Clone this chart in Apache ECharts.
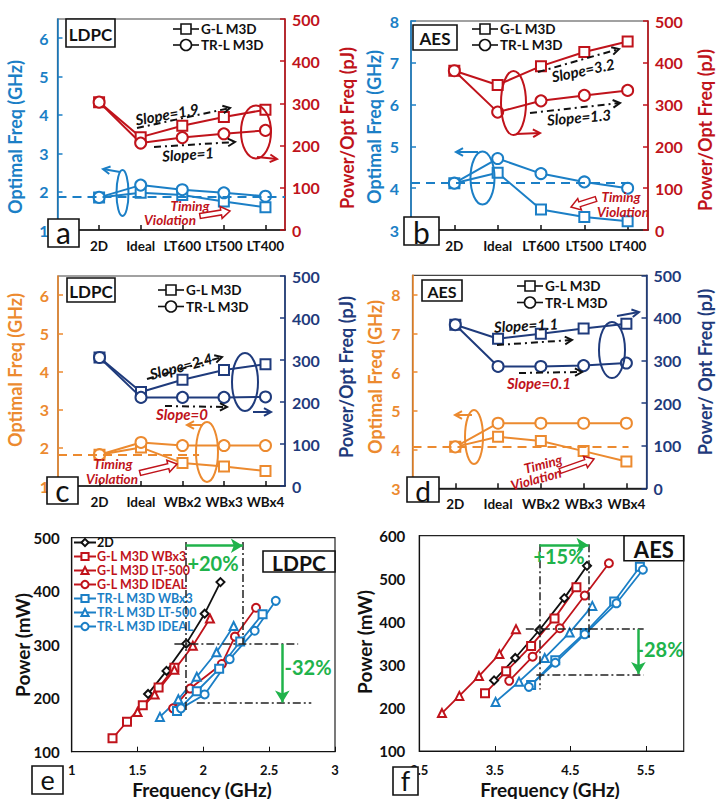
<!DOCTYPE html>
<html>
<head>
<meta charset="utf-8">
<script src="https://cdn.jsdelivr.net/npm/echarts@6/dist/echarts.min.js"></script>
<style>
  html, body { margin: 0; padding: 0; background: #fff; }
  #chart { width: 725px; height: 799px; }
</style>
</head>
<body>
<div id="chart"></div>
<script>
// ---------- data ----------
const catsLT = ['2D', 'Ideal', 'LT600', 'LT500', 'LT400'];
const catsWB = ['2D', 'Ideal', 'WBx2', 'WBx3', 'WBx4'];

// (a) LDPC, liner thickness: optimal frequency (GHz) and power/freq (pJ)
const aFreqGL = [1.85, 1.97, 1.91, 1.74, 1.59];
const aFreqTR = [1.85, 2.17, 2.05, 1.97, 1.88];
const aEnergyGL = [303, 220, 247, 268, 285];
const aEnergyTR = [303, 206, 219, 228, 236];
const aFreq2D = 1.86;

// (b) AES, liner thickness
const bFreqGL = [4.12, 4.37, 3.49, 3.31, 3.21];
const bFreqTR = [4.12, 4.71, 4.35, 4.15, 4.0];
const bEnergyGL = [381, 347, 392, 426, 451];
const bEnergyTR = [381, 282, 309, 322, 334];
const bFreq2D = 4.12;

// (c) LDPC, wire bonding width
const cFreqGL = [1.82, 2.01, 1.6, 1.51, 1.39];
const cFreqTR = [1.82, 2.14, 2.06, 2.06, 2.06];
const cEnergyGL = [306, 224, 253, 276, 290];
const cEnergyTR = [306, 211, 211, 211, 212];
const cFreq2D = 1.82;

// (d) AES, wire bonding width
const dFreqGL = [4.07, 4.33, 4.22, 3.96, 3.69];
const dFreqTR = [4.07, 4.68, 4.68, 4.68, 4.68];
const dEnergyGL = [384, 351, 363, 375, 386];
const dEnergyTR = [384, 286, 286, 288, 294];
const dFreq2D = 4.07;

// (e) LDPC power vs. frequency
const eNames = ['2D', 'G-L M3D WBx3', 'G-L M3D LT-500', 'G-L M3D IDEAL', 'TR-L M3D WBx3', 'TR-L M3D LT-500', 'TR-L M3D IDEAL'];
const e2DFreq = [1.58, 1.72, 1.87, 2.01, 2.13];
const e2DPower = [208, 251, 302, 358, 417];
const eGLWBFreq = [1.31, 1.42, 1.54, 1.66, 1.78];
const eGLWBPower = [125, 156, 187, 220, 257];
const eGLLTFreq = [1.50, 1.63, 1.78, 1.92, 2.05];
const eGLLTPower = [174, 207, 253, 298, 349];
const eGLIdFreq = [1.77, 1.90, 2.14, 2.24, 2.40];
const eGLIdPower = [181, 218, 264, 315, 369];
const eTRWBFreq = [1.80, 1.95, 2.12, 2.28, 2.45];
const eTRWBPower = [176, 213, 255, 306, 357];
const eTRLTFreq = [1.67, 1.81, 1.95, 2.10, 2.23];
const eTRLTPower = [165, 198, 240, 286, 335];
const eTRIdFreq = [1.83, 2.01, 2.20, 2.39, 2.55];
const eTRIdPower = [181, 207, 273, 326, 382];
const eFreq2D = 1.865, eFreqM3D = 2.30, eIsoPower = 301, eM3DPower = 192;

// (f) AES power vs. frequency
const f2DFreq = [3.49, 3.77, 4.09, 4.42, 4.72];
const f2DPower = [264, 316, 381, 455, 530];
const fGLWBFreq = [3.37, 3.65, 3.98, 4.29, 4.58];
const fGLWBPower = [234, 285, 344, 408, 480];
const fGLLTFreq = [2.80, 3.03, 3.29, 3.56, 3.78];
const fGLLTPower = [188, 228, 274, 325, 383];
const fGLIdFreq = [3.69, 4.00, 4.36, 4.69, 5.01];
const fGLIdPower = [263, 319, 385, 461, 536];
const fTRWBFreq = [3.98, 4.30, 4.69, 5.08, 5.42];
const fTRWBPower = [253, 311, 374, 447, 528];
const fTRLTFreq = [3.51, 3.82, 4.16, 4.49, 4.79];
const fTRLTPower = [214, 261, 316, 375, 437];
const fTRIdFreq = [3.95, 4.30, 4.69, 5.11, 5.46];
const fTRIdPower = [249, 305, 371, 443, 521];
const fFreq2D = 4.09, fFreqM3D = 4.74, fIsoPower = 383, fM3DPower = 277;

// ---------- styling ----------
const FONT = 'Lato, "Open Sans", sans-serif';
const BLUE = '#1b7fc6', RED = '#c0131b', ORANGE = '#ec8a2f', NAVY = '#1f3b7c', GREEN = '#20b34b', BLACK = '#111';

const chart = echarts.init(document.getElementById('chart'), null, { renderer: 'svg', width: 725, height: 799 });

const grids = [
  { left: 57.5, top: 19, width: 227.5, height: 211 },   // a
  { left: 411, top: 21, width: 237, height: 209 },      // b
  { left: 58, top: 276, width: 227, height: 210 },      // c
  { left: 412.5, top: 275.3, width: 234, height: 213 }, // d
  { left: 71.7, top: 537.7, width: 263.3, height: 214 },// e
  { left: 419.3, top: 535.7, width: 264.4, height: 215.3 } // f
].map((g, i) => Object.assign({ show: true, borderColor: i < 4 ? '#444' : '#222', borderWidth: 1.2, backgroundColor: 'transparent' }, g));

function catAxis(gi, cats) {
  return {
    gridIndex: gi, type: 'value', min: 0, max: 5.47, interval: 1,
    axisLine: { show: true, lineStyle: { color: BLACK, width: 1.5 } },
    axisTick: { show: true, inside: true, length: 5, lineStyle: { color: BLACK, width: 1.5 } },
    axisLabel: {
      margin: 9, color: BLACK, fontFamily: FONT, fontWeight: 'bold', fontSize: 13.5, showMaxLabel: false,
      formatter: v => (Number.isInteger(v) && v >= 1 && v <= cats.length) ? cats[v - 1] : ''
    },
    splitLine: { show: false }
  };
}
function valAxisY(gi, min, max, interval, color, position, showMax, margin) {
  return {
    gridIndex: gi, type: 'value', min, max, interval, position,
    axisLine: { show: true, onZero: false, lineStyle: { color, width: 1.6 } },
    axisTick: { show: true, inside: true, length: 5, lineStyle: { color, width: 1.5 } },
    axisLabel: { margin: margin, color, fontFamily: FONT, fontWeight: 'bold', fontSize: 16, showMaxLabel: showMax },
    splitLine: { show: false }
  };
}

const xAxes = [
  catAxis(0, catsLT), catAxis(1, catsLT), catAxis(2, catsWB), catAxis(3, catsWB),
  {
    gridIndex: 4, type: 'value', min: 1, max: 3, interval: 0.5,
    axisLine: { show: true, lineStyle: { color: BLACK, width: 1.2 } },
    axisTick: { show: true, inside: true, length: 5, lineStyle: { color: BLACK } },
    axisLabel: { margin: 12, color: BLACK, fontFamily: FONT, fontWeight: 'bold', fontSize: 13 },
    splitLine: { show: false }
  },
  {
    gridIndex: 5, type: 'value', min: 2.5, max: 6, interval: 1,
    axisLine: { show: true, lineStyle: { color: BLACK, width: 1.2 } },
    axisTick: { show: true, inside: true, length: 5, lineStyle: { color: BLACK } },
    axisLabel: { margin: 12, color: BLACK, fontFamily: FONT, fontWeight: 'bold', fontSize: 13, showMaxLabel: false },
    splitLine: { show: false }
  }
];

const yAxes = [
  valAxisY(0, 1, 6.5, 1, BLUE, 'left', false, 9), valAxisY(0, 0, 500, 100, RED, 'right', true, 7),
  valAxisY(1, 3, 8, 1, BLUE, 'left', true, 12), valAxisY(1, 0, 500, 100, RED, 'right', true, 7),
  valAxisY(2, 1, 6.5, 1, ORANGE, 'left', false, 9), valAxisY(2, 0, 500, 100, NAVY, 'right', true, 7),
  valAxisY(3, 3, 8.5, 1, ORANGE, 'left', false, 12), valAxisY(3, 0, 500, 100, NAVY, 'right', true, 7),
  {
    gridIndex: 4, type: 'value', min: 100, max: 500, interval: 100,
    axisLine: { show: true, lineStyle: { color: BLACK, width: 1.2 } },
    axisTick: { show: false },
    axisLabel: { margin: 12, color: BLACK, fontFamily: FONT, fontWeight: 'bold', fontSize: 15 },
    splitLine: { show: false }
  },
  {
    gridIndex: 5, type: 'value', min: 100, max: 600, interval: 100,
    axisLine: { show: true, lineStyle: { color: BLACK, width: 1.2 } },
    axisTick: { show: false },
    axisLabel: { margin: 14, color: BLACK, fontFamily: FONT, fontWeight: 'bold', fontSize: 15 },
    splitLine: { show: false }
  }
];

const toCat = arr => arr.map((v, i) => [i + 1, v]);
const zip = (xs, ys) => xs.map((x, i) => [x, ys[i]]);

function lineSeries(name, xi, yi, data, symbol, color, size, width) {
  return {
    name, type: 'line', xAxisIndex: xi, yAxisIndex: yi, data,
    symbol, symbolSize: size, showSymbol: true, animation: false, silent: true, z: 3,
    lineStyle: { color, width },
    itemStyle: { color, borderColor: color, borderWidth: width }
  };
}

function dashMark(y, xEnd, color) {
  return {
    silent: true, symbol: 'none', label: { show: false },
    lineStyle: { color, width: 2, type: [9, 6] },
    data: [[{ coord: [0, y] }, { coord: [xEnd, y] }]]
  };
}

const series = [];
function panel(gi, freqGL, freqTR, enGL, enTR, cFreq, cEn, dashY, dashEnd) {
  const sq = lineSeries('GL freq ' + gi, gi, 2 * gi, toCat(freqGL), 'emptyRect', cFreq, 10, 2);
  sq.markLine = dashMark(dashY, dashEnd, cFreq);
  series.push(
    sq,
    lineSeries('TR freq ' + gi, gi, 2 * gi, toCat(freqTR), 'emptyCircle', cFreq, 11, 2),
    lineSeries('GL energy ' + gi, gi, 2 * gi + 1, toCat(enGL), 'emptyRect', cEn, 10, 2),
    lineSeries('TR energy ' + gi, gi, 2 * gi + 1, toCat(enTR), 'emptyCircle', cEn, 11, 2)
  );
}
panel(0, aFreqGL, aFreqTR, aEnergyGL, aEnergyTR, BLUE, RED, aFreq2D, 5.47);
panel(1, bFreqGL, bFreqTR, bEnergyGL, bEnergyTR, BLUE, RED, bFreq2D, 5.1);
panel(2, cFreqGL, cFreqTR, cEnergyGL, cEnergyTR, ORANGE, NAVY, cFreq2D, 3.4);
panel(3, dFreqGL, dFreqTR, dEnergyGL, dEnergyTR, ORANGE, NAVY, dFreq2D, 5.05);

// guide lines for the power/frequency panels
const DASHDOT = [8, 3, 2, 3];
function guide(p1, p2, color, width, dash, arrow) {
  const ls = { color, width, type: dash || 'solid' };
  return [
    { coord: p1, symbol: 'none', lineStyle: ls },
    { coord: p2, symbol: arrow ? 'arrow' : 'none', symbolSize: [11, 12], lineStyle: ls }
  ];
}

const eSets = [
  [e2DFreq, e2DPower, 'emptyDiamond', BLACK],
  [eGLWBFreq, eGLWBPower, 'emptyRect', RED],
  [eGLLTFreq, eGLLTPower, 'emptyTriangle', RED],
  [eGLIdFreq, eGLIdPower, 'emptyCircle', RED],
  [eTRWBFreq, eTRWBPower, 'emptyRect', BLUE],
  [eTRLTFreq, eTRLTPower, 'emptyTriangle', BLUE],
  [eTRIdFreq, eTRIdPower, 'emptyCircle', BLUE]
];
eSets.forEach((s, i) => {
  series.push(lineSeries(eNames[i], 4, 8, zip(s[0], s[1]), s[2], s[3], 8, 1.8));
});
series[16].markLine = {
  silent: true, label: { show: false }, symbol: 'none',
  data: [
    guide([eFreq2D, 492], [eFreq2D, 176], '#222', 1.5, DASHDOT),
    guide([eFreqM3D, 492], [eFreqM3D, eIsoPower], '#222', 1.5, DASHDOT),
    guide([1.78, eIsoPower], [2.72, eIsoPower], '#222', 1.5, DASHDOT),
    guide([1.95, eM3DPower], [2.82, eM3DPower], '#222', 1.5, DASHDOT),
    guide([eFreq2D, 485], [eFreqM3D, 485], GREEN, 2.5, null, true),
    guide([2.6, eIsoPower], [2.6, eM3DPower], GREEN, 2.5, null, true)
  ]
};

const fSets = [
  [f2DFreq, f2DPower, 'emptyDiamond', BLACK],
  [fGLWBFreq, fGLWBPower, 'emptyRect', RED],
  [fGLLTFreq, fGLLTPower, 'emptyTriangle', RED],
  [fGLIdFreq, fGLIdPower, 'emptyCircle', RED],
  [fTRWBFreq, fTRWBPower, 'emptyRect', BLUE],
  [fTRLTFreq, fTRLTPower, 'emptyTriangle', BLUE],
  [fTRIdFreq, fTRIdPower, 'emptyCircle', BLUE]
];
fSets.forEach((s, i) => {
  series.push(lineSeries('AES ' + eNames[i], 5, 9, zip(s[0], s[1]), s[2], s[3], 8, 1.8));
});
series[23].markLine = {
  silent: true, label: { show: false }, symbol: 'none',
  data: [
    guide([fFreq2D, 580], [fFreq2D, 243], '#222', 1.5, DASHDOT),
    guide([fFreqM3D, 580], [fFreqM3D, 360], '#222', 1.5, DASHDOT),
    guide([3.91, fIsoPower], [5.47, fIsoPower], '#222', 1.5, DASHDOT),
    guide([4.05, fM3DPower], [5.47, fM3DPower], '#222', 1.5, DASHDOT),
    guide([fFreq2D, 578], [fFreqM3D, 578], GREEN, 2.5, null, true),
    guide([5.40, fIsoPower], [5.40, fM3DPower + 2], GREEN, 2.5, null, true)
  ]
};

// ---------- annotations ----------
const G = [];
function txt(x, y, s, o) {
  o = o || {};
  G.push({
    type: 'text', x, y, rotation: (o.rot || 0) * Math.PI / 180, z: 30, silent: true,
    style: {
      text: s, fill: o.color || BLACK,
      font: (o.italic ? 'italic ' : '') + (o.weight || 'bold') + ' ' + (o.size || 15) + 'px ' + FONT,
      align: o.align || 'center', verticalAlign: 'middle'
    }
  });
}
function seg(x1, y1, x2, y2, color, w, dash) {
  G.push({ type: 'line', z: 25, silent: true, shape: { x1, y1, x2, y2 },
    style: { stroke: color, lineWidth: w, lineDash: dash || null, fill: 'none' } });
}
function head(x1, y1, x2, y2, color, w, size) {
  const a = Math.atan2(y2 - y1, x2 - x1), s = size || 8;
  G.push({ type: 'polyline', z: 25, silent: true,
    shape: { points: [[x2 - s * Math.cos(a - 0.5), y2 - s * Math.sin(a - 0.5)], [x2, y2],
                      [x2 - s * Math.cos(a + 0.5), y2 - s * Math.sin(a + 0.5)]] },
    style: { stroke: color, lineWidth: w, fill: 'none' } });
}
function arrow(x1, y1, x2, y2, color, w, dash, size) {
  seg(x1, y1, x2, y2, color, w, dash);
  head(x1, y1, x2, y2, color, w, size);
}
function oval(cx, cy, rx, ry, color) {
  G.push({ type: 'ellipse', z: 25, silent: true, shape: { cx, cy, rx, ry },
    style: { stroke: color, lineWidth: 2, fill: 'none' } });
}
function hollowArrow(x1, y1, x2, y2, color) {
  const a = Math.atan2(y2 - y1, x2 - x1), L = Math.hypot(x2 - x1, y2 - y1);
  const loc = [[0, -2.5], [L - 9, -2.5], [L - 9, -6], [L, 0], [L - 9, 6], [L - 9, 2.5], [0, 2.5]];
  const pts = loc.map(p => [x1 + p[0] * Math.cos(a) - p[1] * Math.sin(a), y1 + p[0] * Math.sin(a) + p[1] * Math.cos(a)]);
  G.push({ type: 'polygon', z: 26, silent: true, shape: { points: pts },
    style: { stroke: color, lineWidth: 1.5, fill: '#fff' } });
}
function box(x, y, w, h, label, size, weight, dy) {
  G.push({ type: 'rect', z: 28, silent: true, shape: { x, y, width: w, height: h },
    style: { fill: '#fff', stroke: BLACK, lineWidth: 1.6 } });
  txt(x + w / 2, y + h / 2 + (dy || 1), label, { size, weight: weight || 'bold' });
}
function miniLegend(x, y, marker, label) {
  seg(x, y, x + 26, y, BLACK, 1.6);
  if (marker === 'rect') {
    G.push({ type: 'rect', z: 26, silent: true, shape: { x: x + 13 - 5, y: y - 5, width: 10, height: 10 },
      style: { fill: '#fff', stroke: BLACK, lineWidth: 1.6 } });
  } else {
    G.push({ type: 'circle', z: 26, silent: true, shape: { cx: x + 13, cy: y, r: 5.5 },
      style: { fill: '#fff', stroke: BLACK, lineWidth: 1.6 } });
  }
  txt(x + 28, y, label, { align: 'left', size: 13.5 });
}
const slopeDash = [7, 4, 2, 4];
const TV = { italic: true, color: RED, size: 13.5 };

// axis titles
txt(15, 137, 'Optimal Freq (GHz)', { rot: 90, color: BLUE, size: 18 });
txt(347, 128, 'Power/Opt Freq (pJ)', { rot: 90, color: RED, size: 18 });
txt(374, 127, 'Optimal Freq (GHz)', { rot: 90, color: BLUE, size: 18 });
txt(705, 130, 'Power/Opt Freq (pJ)', { rot: 90, color: RED, size: 18 });
txt(15, 370, 'Optimal Freq (GHz)', { rot: 90, color: ORANGE, size: 18 });
txt(346, 377, 'Power/Opt Freq (pJ)', { rot: 90, color: NAVY, size: 18 });
txt(375, 377, 'Optimal Freq (GHz)', { rot: 90, color: ORANGE, size: 18 });
txt(705, 372, 'Power/ Opt Freq (pJ)', { rot: 90, color: NAVY, size: 18 });
txt(22, 645, 'Power (mW)', { rot: 90, size: 19 });
txt(202, 789, 'Frequency (GHz)', { size: 19 });
txt(364, 642, 'Power (mW)', { rot: 90, size: 19 });
txt(550, 789, 'Frequency (GHz)', { size: 19 });

// panel a
box(66, 19, 49, 28, 'LDPC', 17);
miniLegend(173, 29, 'rect', 'G-L M3D');
miniLegend(173, 45, 'circle', 'TR-L M3D');
oval(122.5, 193, 6, 23, BLUE);
arrow(120, 172, 103, 169, BLUE, 2, null, 8);
oval(256, 132, 15, 26.5, RED);
arrow(257, 157, 277, 159, RED, 2, null, 8);
arrow(137, 128, 230, 108, BLACK, 2, slopeDash, 8);
txt(167, 114, 'Slope=1.9', { italic: true, rot: 10 });
arrow(154, 147, 235, 142, BLACK, 2, slopeDash, 8);
txt(188, 154, 'Slope=1', { italic: true, rot: 4 });
txt(190, 205.5, 'Timing', TV);
txt(170, 220, 'Violation', TV);
hollowArrow(200, 216, 230, 211, RED);
box(48, 219, 31, 28, 'a', 30, 'normal', -1);

// panel b
box(413, 25, 44, 25, 'AES', 17);
miniLegend(472, 29, 'rect', 'G-L M3D');
miniLegend(472, 45, 'circle', 'TR-L M3D');
oval(482.5, 178, 12, 26.5, BLUE);
arrow(478, 152, 456, 152, BLUE, 2, null, 8);
oval(513.5, 103, 12.5, 32, RED);
arrow(516, 134, 540, 133, RED, 2, null, 8);
arrow(538, 72, 619, 49, BLACK, 2, slopeDash, 8);
txt(583, 70, 'Slope=3.2', { italic: true, rot: 12 });
arrow(530, 113, 620, 103, BLACK, 2, slopeDash, 8);
txt(579, 117, 'Slope=1.3', { italic: true, rot: 5 });
txt(621, 197, 'Timing', TV);
txt(623, 212, 'Violation', TV);
hollowArrow(596, 199, 571, 207, RED);
box(404, 217, 35, 28, 'b', 30, 'normal', 0);

// panel c
box(67, 278, 48, 24, 'LDPC', 17);
miniLegend(158, 290, 'rect', 'G-L M3D');
miniLegend(158, 306.5, 'circle', 'TR-L M3D');
oval(245, 382, 13, 29, NAVY);
arrow(253, 412, 271, 412, NAVY, 2, null, 8);
oval(207, 452, 11, 30, ORANGE);
arrow(203, 425, 187, 425, ORANGE, 2, null, 8);
arrow(147, 379, 222, 357, BLACK, 2, slopeDash, 8);
txt(181, 366, 'Slope=2.4', { italic: true, rot: 15 });
arrow(165, 406, 227, 407, BLACK, 2, slopeDash, 8);
txt(182, 414, 'Slope=0', { italic: true, color: RED });
txt(113, 464, 'Timing', TV);
txt(112, 478.5, 'Violation', TV);
hollowArrow(140, 473, 177, 464, RED);
box(47, 477, 31, 27, 'c', 30, 'normal', -1);

// panel d
box(422, 280, 40, 21, 'AES', 16);
miniLegend(517, 286, 'rect', 'G-L M3D');
miniLegend(517, 302.5, 'circle', 'TR-L M3D');
oval(612, 350, 13, 28, NAVY);
arrow(617, 316, 639, 312, NAVY, 2, null, 8);
oval(474, 437, 9, 27, ORANGE);
arrow(472, 415, 455, 415, ORANGE, 2, null, 8);
txt(526, 325, 'Slope=1.1', { italic: true, rot: 3 });
arrow(497, 345, 572, 340, BLACK, 2, slopeDash, 8);
arrow(519, 373, 582, 372, BLACK, 2, slopeDash, 8);
txt(539, 383, 'Slope=0.1', { italic: true, color: RED });
txt(543, 464, 'Timing', Object.assign({ rot: 15 }, TV));
txt(536, 479, 'Violation', Object.assign({ rot: 15 }, TV));
hollowArrow(560, 471, 594, 459, RED);
box(407, 477, 32, 25, 'd', 28, 'normal', 0);

// panel e / f
box(263, 551, 72, 21, 'LDPC', 21);
txt(213, 563, '+20%', { color: GREEN, size: 20 });
txt(308, 667, '-32%', { color: GREEN, size: 20 });
box(32, 766, 31, 28, 'e', 27, 'normal', -1);
box(624, 535.7, 59.7, 25, 'AES', 22);
txt(559, 556, '+15%', { color: GREEN, size: 20 });
txt(660, 649, '-28%', { color: GREEN, size: 20 });
box(393, 767, 25, 28, 'f', 27, 'normal', -1);

const legendColors = [BLACK, RED, RED, RED, BLUE, BLUE, BLUE];

chart.setOption({
  animation: false,
  backgroundColor: '#fff',
  textStyle: { fontFamily: FONT },
  grid: grids,
  xAxis: xAxes,
  yAxis: yAxes,
  legend: {
    orient: 'vertical', left: 73, top: 536, itemGap: 1, itemWidth: 22, itemHeight: 9,
    selectedMode: false, padding: 0,
    textStyle: { fontFamily: FONT, fontWeight: 'bold', fontSize: 12.5, lineHeight: 13, padding: [0, 0, 0, -4] },
    data: eNames.map((n, i) => ({ name: n, textStyle: { color: legendColors[i] } }))
  },
  series,
  graphic: G
});
</script>
</body>
</html>
